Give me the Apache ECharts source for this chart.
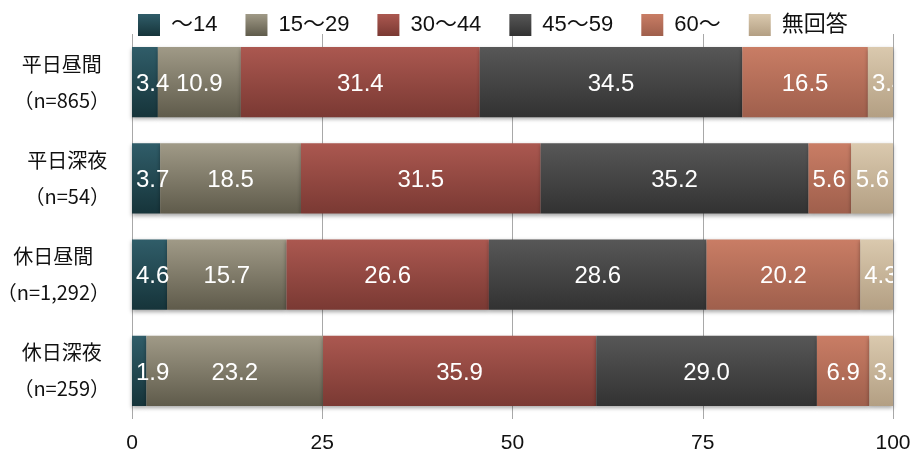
<!DOCTYPE html>
<html>
<head>
<meta charset="utf-8">
<script src="https://cdn.jsdelivr.net/npm/echarts@6/dist/echarts.min.js"></script>
<style>
  html, body { margin: 0; padding: 0; background: #ffffff; }
  #chart { width: 914px; height: 454px; }
</style>
</head>
<body>
<div id="chart"></div>
<script>
// Time slots and their sample sizes
const categories = ['平日昼間', '平日深夜', '休日昼間', '休日深夜'];
const sampleSizes = ['865', '54', '1,292', '259'];

// Age groups (legend order) and their shares in percent per time slot
const ageGroups = ['～14', '15～29', '30～44', '45～59', '60～', '無回答'];
const under14   = [3.4, 3.7, 4.6, 1.9];
const age15to29 = [10.9, 18.5, 15.7, 23.2];
const age30to44 = [31.4, 31.5, 26.6, 35.9];
const age45to59 = [34.5, 35.2, 28.6, 29.0];
const age60plus = [16.5, 5.6, 20.2, 6.9];
const noAnswer  = [3.4, 5.6, 4.3, 3.1];

// Value axis ticks
const xTicks = [0, 25, 50, 75, 100];

const seriesValues = [under14, age15to29, age30to44, age45to59, age60plus, noAnswer];

// Top/bottom colours of each glossy segment
const palette = [
  ['#305d69', '#16343a'],
  ['#a09a87', '#5f5b4b'],
  ['#ab5850', '#7a3933'],
  ['#575757', '#323232'],
  ['#c97d65', '#9f5f4c'],
  ['#dac9ae', '#b39f83']
];

const grad = (c) => new echarts.graphic.LinearGradient(0, 0, 0, 1, [
  { offset: 0, color: c[0] },
  { offset: 1, color: c[1] }
]);

const LATIN = '"Liberation Sans", Arial, "Noto Sans CJK JP", sans-serif';
const LABEL_FONT = '24px ' + LATIN;
const measureCtx = document.createElement('canvas').getContext('2d');
measureCtx.font = LABEL_FONT;

// Segment label records: [category index, start, end, value, position in row]
const labelData = [];
categories.forEach((_, ci) => {
  let acc = 0;
  seriesValues.forEach((arr, si) => {
    const v = arr[ci];
    labelData.push([ci, acc, acc + v, v, si]);
    acc += v;
  });
});

const barSeries = ageGroups.map((name, i) => ({
  name: name,
  type: 'bar',
  stack: 'total',
  barCategoryGap: '27%',
  data: seriesValues[i],
  itemStyle: {
    color: grad(palette[i]),
    shadowColor: 'rgba(0,0,0,0.35)',
    shadowBlur: 4,
    shadowOffsetY: 2
  },
  emphasis: { disabled: true }
}));

// Horizontal placement of a segment label: centred when it fits,
// otherwise starting just inside the segment's left edge.
function labelBox(api, rec) {
  const p0 = api.coord([rec[1], rec[0]]);
  const p1 = api.coord([rec[2], rec[0]]);
  const text = rec[3].toFixed(1);
  const tw = measureCtx.measureText(text).width;
  const w = p1[0] - p0[0];
  let left, centred;
  if (tw + 4 <= w) {
    left = (p0[0] + p1[0]) / 2 - tw / 2;
    centred = true;
  } else {
    left = p0[0] + 4;
    centred = false;
  }
  return { text: text, left: left, right: left + tw, y: p0[1], centred: centred };
}

// Value labels drawn inside the segments, clipped to the plot area
const labelSeries = {
  name: 'labels',
  type: 'custom',
  clip: true,
  z: 10,
  data: labelData,
  encode: { x: [1, 2], y: 0 },
  renderItem: function (params, api) {
    const rec = labelData[params.dataIndex];
    const box = labelBox(api, rec);
    const next = labelData[params.dataIndex + 1];
    if (box.centred && next && next[0] === rec[0]) {
      const nb = labelBox(api, next);
      const overlap = box.right + 10 - nb.left;
      if (overlap > 0) {
        box.left -= overlap;
      }
    }
    return {
      type: 'text',
      x: box.left,
      y: box.y + 2,
      style: {
        text: box.text,
        fill: '#ffffff',
        font: LABEL_FONT,
        align: 'left',
        verticalAlign: 'middle'
      }
    };
  }
};

const chart = echarts.init(document.getElementById('chart'));
chart.setOption({
  animation: false,
  backgroundColor: '#ffffff',
  legend: {
    data: ageGroups,
    left: 133,
    top: 9,
    itemWidth: 22,
    itemHeight: 22,
    itemGap: 28,
    icon: 'rect',
    selectedMode: false,
    textStyle: {
      fontSize: 22,
      color: '#111111',
      fontFamily: LATIN,
      padding: [0, 0, 0, 6]
    }
  },
  grid: { left: 132, right: 21, top: 34, bottom: 35, outerBoundsMode: 'none' },
  xAxis: {
    type: 'value',
    min: xTicks[0],
    max: xTicks[xTicks.length - 1],
    interval: xTicks[1] - xTicks[0],
    axisLine: { show: false },
    axisTick: { show: false },
    splitLine: { show: true, lineStyle: { color: '#a8a8a8', width: 1 } },
    axisLabel: {
      margin: 14,
      fontSize: 21,
      color: '#111111',
      fontFamily: LATIN
    }
  },
  yAxis: {
    type: 'category',
    data: categories,
    inverse: true,
    axisLine: { show: false },
    axisTick: { show: false },
    axisLabel: {
      margin: 22,
      align: 'right',
      formatter: function (value, idx) {
        return '{t|' + value + '}\n{t|（n=' + sampleSizes[idx] + '）}';
      },
      rich: {
        t: {
          fontSize: 20,
          lineHeight: 36,
          color: '#111111',
          align: 'center',
          fontFamily: '"Noto Sans CJK JP", sans-serif'
        }
      }
    }
  },
  series: barSeries.concat([labelSeries])
});
</script>
</body>
</html>
